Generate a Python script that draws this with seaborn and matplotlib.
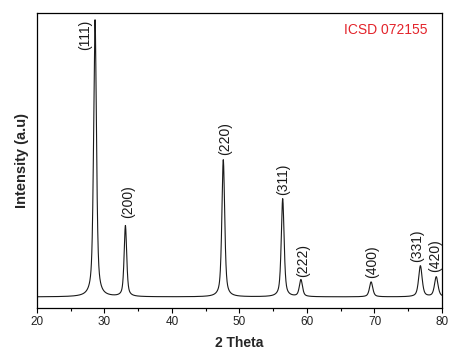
"""XRD pattern with indexed reflections (ICSD 072155)."""

import matplotlib
matplotlib.use("Agg")
import matplotlib.pyplot as plt
import matplotlib.ticker as mticker
import numpy as np
import pandas as pd
import seaborn as sns

# Reflections: position (2 theta), height above
# background (a.u.), FWHM (deg)
HKL = ["(111)", "(200)", "(220)", "(311)", "(222)", "(400)", "(331)", "(420)"]
PEAK_POS = [28.6, 33.1, 47.6, 56.4, 59.1, 69.5, 76.8, 79.15]
PEAK_HEIGHT = [1000, 256, 495, 354, 61, 54, 112, 72]
PEAK_FWHM = [0.50, 0.45, 0.50, 0.50, 0.55, 0.58, 0.62, 0.62]
BACKGROUND = 0

# Label anchors (x, bottom of rotated text)
LABEL_X = [27.1, 33.5, 47.9, 56.4, 59.4, 69.6, 76.3, 79.0]
LABEL_Y = [890, 285, 513, 368, 72, 69, 126, 90]

sns.set_style("ticks")
plt.rcParams["font.family"] = ["Liberation Sans", "DejaVu Sans"]


def pseudo_voigt(x, x0, h, w, eta=0.6):
    g = np.exp(-4 * np.log(2) * (x - x0) ** 2 / w ** 2)
    lo = 1 / (1 + 4 * (x - x0) ** 2 / w ** 2)
    return h * (eta * lo + (1 - eta) * g)


two_theta = np.arange(20, 80.001, 0.02)
intensity = np.full_like(two_theta, BACKGROUND, dtype=float)
for pos, hgt, fw in zip(PEAK_POS, PEAK_HEIGHT, PEAK_FWHM):
    intensity += pseudo_voigt(two_theta, pos, hgt, fw)
df = pd.DataFrame({"2theta": two_theta, "I": intensity})

fig = plt.figure(figsize=(4.55, 3.55), dpi=100)
ax = fig.add_axes([0.0813, 0.1324, 0.8901, 0.831])

sns.lineplot(data=df, x="2theta", y="I", ax=ax, color="#1a1a1a",
             linewidth=0.8, estimator=None)

for lab, lx, ly in zip(HKL, LABEL_X, LABEL_Y):
    ax.text(lx, ly, lab, rotation=90, ha="center", va="bottom",
            fontsize=10, color="#1a1a1a")

ax.text(0.862, 0.942, "ICSD 072155", transform=ax.transAxes,
        ha="center", va="center", fontsize=10, color="#e3242b")

ax.set_xlim(20, 80)
ax.set_ylim(-40, 1025)
ax.xaxis.set_major_locator(mticker.MultipleLocator(10))
ax.xaxis.set_minor_locator(mticker.MultipleLocator(5))
ax.tick_params(axis="x", which="major", length=3.5, width=0.8,
               labelsize=8.5, pad=2.5, color="black", labelcolor="#222222")
ax.tick_params(axis="x", which="minor", length=2, width=0.8, color="black")
ax.set_yticks([])
for sp in ax.spines.values():
    sp.set_visible(True)
    sp.set_color("black")
    sp.set_linewidth(0.9)

ax.set_xlabel("2 Theta", fontsize=10, fontweight="bold")
ax.set_ylabel("Intensity (a.u)", fontsize=10.5, fontweight="bold")
ax.xaxis.set_label_coords(0.5, -0.095)
ax.yaxis.set_label_coords(-0.02, 0.5)

fig.savefig("out.png", dpi=100)
